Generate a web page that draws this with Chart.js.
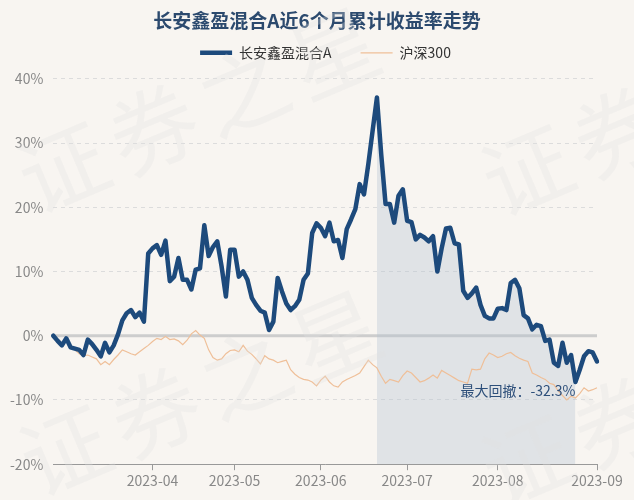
<!DOCTYPE html>
<html lang="zh-CN">
<head>
<meta charset="UTF-8" />
<title>长安鑫盈混合A近6个月累计收益率走势</title>
<style>
  body { margin: 0; padding: 0; background-color: #f8f5f1; }
  .chart-container { position: relative; width: 634px; height: 500px; }
</style>
</head>
<body>
<div class="chart-container"><canvas id="myChart"></canvas></div>
<script src="https://cdn.jsdelivr.net/npm/chart.js@4.4.0/dist/chart.umd.min.js"></script>
<script>
// cumulative return, %, one value per trading day (2023-03-01 .. 2023-09-01)
const fund = [
  0, -0.8, -1.5, -0.4, -1.8, -2.0, -2.2, -3.0, -0.6, -1.3,
  -2.2, -3.2, -1.1, -2.6, -1.5, 0.2, 2.4, 3.5, 4.0, 2.9,
  3.6, 2.2, 12.8, 13.6, 14.1, 12.6, 14.8, 8.5, 9.2, 12.1,
  8.7, 8.7, 7.2, 10.3, 10.5, 17.2, 12.4, 13.8, 14.7, 10.8,
  6.1, 13.4, 13.4, 9.2, 10.0, 8.7, 5.9, 4.8, 3.9, 3.6,
  0.9, 2.2, 9.0, 6.9, 5.0, 4.0, 4.6, 5.6, 8.7, 9.7,
  16.0, 17.5, 16.8, 15.5, 17.6, 14.7, 14.9, 12.1, 16.6, 18.1,
  19.7, 23.6, 22.0, 26.7, 31.9, 37.1, 28.2, 20.5, 20.5, 17.6,
  21.8, 22.8, 17.9, 17.7, 15.0, 15.7, 15.3, 14.7, 15.5, 10.0,
  13.6, 16.7, 16.8, 14.4, 14.2, 7.0, 5.9, 6.6, 7.5, 4.8,
  3.1, 2.7, 2.7, 4.2, 4.3, 4.0, 8.2, 8.7, 7.4, 3.2,
  2.7, 1.0, 1.7, 1.5, -0.8, -0.6, -4.2, -4.7, -1.1, -4.2,
  -3.0, -7.2, -5.3, -3.2, -2.4, -2.6, -4.0
];
const hs300 = [
  0, -0.5, -1.2, -0.8, -1.6, -2.2, -2.8, -3.1, -3.0, -3.3,
  -3.6, -4.5, -4.0, -4.5, -3.7, -3.0, -2.2, -2.5, -2.8, -3.0,
  -2.5, -2.0, -1.5, -0.9, -0.4, -0.6, -0.1, -0.6, -0.5, -0.8,
  -1.4, -0.7, 0.3, 0.8, 0.1, -0.4, -2.2, -3.4, -3.8, -3.6,
  -2.8, -2.3, -2.2, -2.5, -1.5, -2.4, -2.9, -3.6, -4.4, -3.1,
  -3.6, -3.8, -4.2, -4.0, -3.8, -5.3, -6.0, -6.5, -6.8, -6.9,
  -7.2, -7.8, -6.9, -6.3, -7.2, -7.8, -8.0, -7.2, -6.8, -6.5,
  -6.2, -5.8, -4.8, -3.8, -4.5, -5.0, -6.3, -7.4, -6.8, -7.0,
  -7.2, -6.2, -5.5, -5.8, -6.5, -7.2, -7.0, -6.6, -6.1, -6.6,
  -5.4, -5.8, -6.2, -6.6, -7.0, -7.2, -7.4, -5.2, -5.3, -5.2,
  -3.6, -2.7, -3.0, -3.4, -3.2, -2.8, -2.6, -3.1, -3.5, -3.8,
  -4.0, -5.8, -6.1, -6.5, -6.8, -7.4, -7.6, -8.6, -9.3, -10.0,
  -9.4, -9.7, -9.0, -8.1, -8.6, -8.4, -8.1
];
const tickIdx = [23, 42, 62, 82, 103, 126];
const tickLabels = ["2023-04", "2023-05", "2023-06", "2023-07", "2023-08", "2023-09"];
const yTicks = [-20, -10, 0, 10, 20, 30, 40];
const peakIdx = 75;
const troughIdx = 121;
const drawdownText = "最大回撤：-32.3%";

const labels = fund.map((v, i) => String(i));
const ddArea = fund.map((v, i) => (i >= peakIdx && i <= troughIdx ? v : null));

const FONT = "'Noto Sans CJK SC', 'Noto Sans', sans-serif";
Chart.defaults.font.family = FONT;

// background + watermark + zero line + drawdown label
const decor = {
  id: "decor",
  afterLayout(chart) {
    // right padding pushes title/legend off centre; put them back like the original
    const t = chart.titleBlock;
    t.left += 18.5;
    t.right += 18.5;
    const lg = chart.legend;
    lg.left += 27;
    lg.right += 27;
    lg.top -= 9;
    lg.bottom -= 9;
  },
  beforeDraw(chart) {
    const c = chart.ctx;
    c.save();
    c.fillStyle = "#f8f5f1";
    c.fillRect(0, 0, chart.width, chart.height);
    c.restore();
  },
  beforeDatasetsDraw(chart) {
    const c = chart.ctx, a = chart.chartArea;
    const y0 = chart.scales.y.getPixelForValue(0);
    c.save();
    c.strokeStyle = "#cdcdcd";
    c.lineWidth = 3;
    c.beginPath();
    c.moveTo(a.left, y0);
    c.lineTo(a.right, y0);
    c.stroke();
    c.restore();
  },
  afterDatasetsDraw(chart) {
    const c = chart.ctx;
    const x = chart.scales.x.getPixelForValue(troughIdx);
    const y = chart.scales.y.getPixelForValue(fund[troughIdx]);
    c.save();
    c.font = "14px " + FONT;
    c.fillStyle = "#2d4f7a";
    c.textAlign = "right";
    c.textBaseline = "middle";
    c.fillText(drawdownText, x, y + 9);
    c.restore();
  },
  afterDraw(chart) {
    const c = chart.ctx;
    const spots = [[63, 167], [527, 170], [65, 450], [527, 460]];
    c.save();
    c.font = "88px " + FONT;
    c.fillStyle = "rgba(225,225,225,0.3)";
    c.textAlign = "center";
    c.textBaseline = "middle";
    spots.forEach(([sx, sy]) => {
      c.save();
      c.translate(sx, sy);
      c.rotate(-0.4);
      "证券之星".split("").forEach((ch, k) => c.fillText(ch, k * 98, 0));
      c.restore();
    });
    c.restore();
  }
};

const ctx = document.getElementById("myChart").getContext("2d");
const myChart = new Chart(ctx, {
  type: "line",
  data: {
    labels: labels,
    datasets: [
      {
        label: "长安鑫盈混合A",
        data: fund,
        borderColor: "#1d4a7c",
        backgroundColor: "#1d4a7c",
        borderWidth: 4.5,
        borderJoinStyle: "round",
        borderCapStyle: "round",
        pointRadius: 0,
        tension: 0,
        order: 1
      },
      {
        label: "沪深300",
        data: hs300,
        borderColor: "#efbf98",
        backgroundColor: "#efbf98",
        borderWidth: 1.2,
        pointRadius: 0,
        tension: 0,
        order: 2
      },
      {
        label: "dd",
        data: ddArea,
        borderWidth: 0,
        pointRadius: 0,
        backgroundColor: "rgba(180,195,210,0.35)",
        fill: "start",
        order: 3
      }
    ]
  },
  plugins: [decor],
  options: {
    responsive: true,
    maintainAspectRatio: false,
    animation: false,
    layout: { padding: { left: 0, right: 37, bottom: 9 } },
    plugins: {
      title: {
        display: true,
        text: "长安鑫盈混合A近6个月累计收益率走势",
        color: "#2c4a6e",
        font: { size: 19, weight: "bold" },
        padding: { top: 9, bottom: -6 }
      },
      legend: {
        labels: {
          usePointStyle: true,
          pointStyle: "line",
          pointStyleWidth: 32,
          color: "#333",
          font: { size: 14 },
          padding: 29,
          filter: item => item.datasetIndex < 2
        }
      },
      tooltip: { enabled: false }
    },
    scales: {
      x: {
        type: "category",
        offset: false,
        grid: {
          drawOnChartArea: false,
          drawTicks: true,
          tickLength: 6,
          color: c => (tickIdx.includes(c.index) ? "#999" : "rgba(0,0,0,0)")
        },
        border: { display: true, color: "#999", width: 1 },
        ticks: {
          autoSkip: false,
          maxRotation: 0,
          color: "#888",
          font: { size: 14 },
          padding: 2,
          callback: (v, i) => {
            const k = tickIdx.indexOf(i);
            return k >= 0 ? tickLabels[k] : "";
          }
        }
      },
      y: {
        min: yTicks[0],
        max: yTicks[yTicks.length - 1],
        afterBuildTicks: s => { s.ticks = yTicks.map(v => ({ value: v })); },
        grid: {
          drawTicks: false,
          lineWidth: 1,
          color: c => (c.tick && c.tick.value === 0 ? "rgba(0,0,0,0)" : "#dcdcdc")
        },
        border: { display: false, dash: [4, 4] },
        ticks: {
          color: "#888",
          font: { size: 14 },
          padding: 10,
          callback: v => v + "%"
        }
      }
    }
  }
});
</script>
</body>
</html>
